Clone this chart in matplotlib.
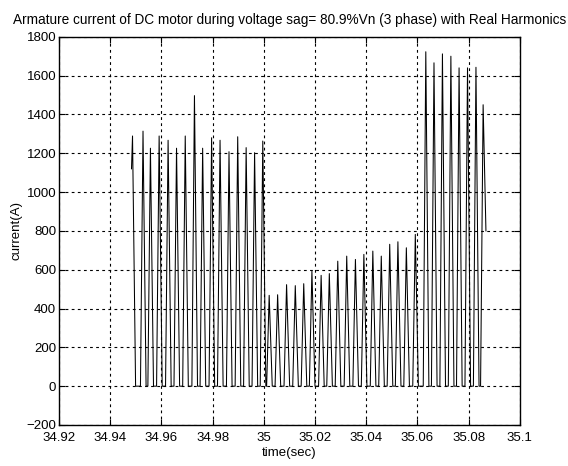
import numpy as np
import matplotlib.pyplot as plt

plt.rcParams['font.family'] = ['Liberation Sans', 'DejaVu Sans']

# peak instants (s) and peak currents (A)
pre_sag_t = [34.9487, 34.9528, 34.9557, 34.9591, 34.9626, 34.9659, 34.9693, 34.9729,
             34.9761, 34.9796, 34.9829, 34.9864, 34.9898, 34.9931, 34.9964, 34.9996]
pre_sag_i = [1289, 1314, 1226, 1289, 1267, 1226, 1289, 1497,
             1226, 1280, 1267, 1208, 1285, 1229, 1203, 1263]

sag_t = [35.0021, 35.0054, 35.0089, 35.0123, 35.0156, 35.0188, 35.0224, 35.0256, 35.0289,
         35.0324, 35.0358, 35.0391, 35.0426, 35.0459, 35.0492, 35.0524, 35.0557, 35.0592]
sag_i = [468, 471, 523, 518, 528, 592, 571, 580, 644,
         670, 653, 679, 696, 670, 731, 744, 713, 782]

recovery_t = [35.0633, 35.0665, 35.0698, 35.0731, 35.0763, 35.0796, 35.0829, 35.0857]
recovery_i = [1723, 1666, 1712, 1700, 1640, 1640, 1643, 1450]

# first and last samples of the record
start_t, start_i = 34.9483, 1120
end_t, end_i = 35.0868, 800

xticks = [34.92, 34.94, 34.96, 34.98, 35.0, 35.02, 35.04, 35.06, 35.08, 35.1]
xtick_labels = ['34.92', '34.94', '34.96', '34.98', '35', '35.02', '35.04', '35.06', '35.08', '35.1']
yticks = list(range(-200, 1801, 200))

peak_t = pre_sag_t + sag_t + recovery_t
peak_i = pre_sag_i + sag_i + recovery_i

# discontinuous conduction: each pulse rises from zero, peaks, falls back to zero
rise, fall = 0.0010, 0.0012
t, cur = [start_t], [start_i]
for k, (tp, ip) in enumerate(zip(peak_t, peak_i)):
    if k > 0:
        t.append(tp - rise)
        cur.append(0)
    t.append(tp)
    cur.append(ip)
    if k < len(peak_t) - 1:
        t.append(tp + fall)
        cur.append(0)
t.append(end_t)
cur.append(end_i)

fig = plt.figure(figsize=(5.68, 4.66), dpi=100)
ax = fig.add_axes([0.104, 0.088, 0.811, 0.833])
ax.plot(t, cur, color='black', lw=0.75)

ax.set_xlim(34.92, 35.1)
ax.set_ylim(-200, 1800)
ax.set_xticks(xticks)
ax.set_xticklabels(xtick_labels)
ax.set_yticks(yticks)
ax.tick_params(direction='in', top=True, right=True, labelsize=9.5, length=4)
ax.tick_params(axis='x', pad=5)
ax.tick_params(axis='y', pad=2)
ax.grid(True, color='black', linestyle=(0, (2.5, 3)), lw=0.8)
for s in ax.spines.values():
    s.set_linewidth(1.0)

ax.set_title('Armature current of DC motor during voltage sag= 80.9%Vn (3 phase) with Real Harmonics',
             fontsize=9.8, pad=9)
ax.set_xlabel('time(sec)', fontsize=9.5, labelpad=2)
ax.set_ylabel('current(A)', fontsize=9.5, labelpad=3)

fig.savefig('out.png', dpi=100)
